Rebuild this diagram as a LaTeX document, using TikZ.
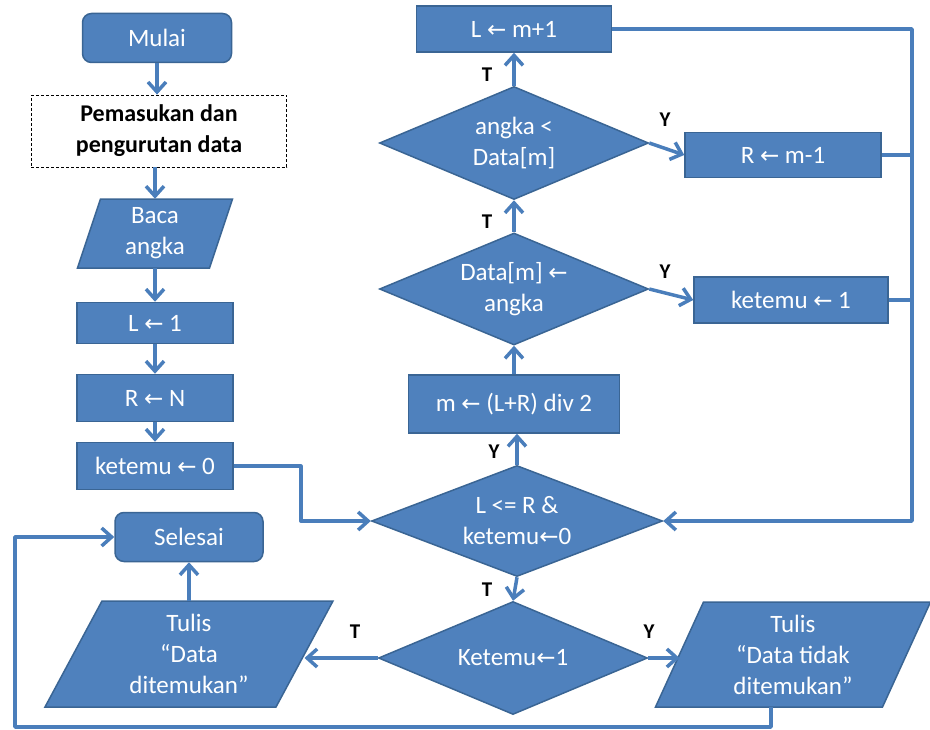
\documentclass[tikz,border=0pt]{standalone}
\usepackage{fontspec}
\setmainfont{Carlito}
\newfontfamily\arrowfont{DejaVu Sans}
\usetikzlibrary{shapes.geometric,arrows.meta,calc}

\definecolor{boxfill}{HTML}{4F81BD}
\definecolor{boxedge}{HTML}{3A6594}
\definecolor{linkblue}{HTML}{4A7EBB}

% assignment arrow used inside the boxes
\newcommand\lar{{\arrowfont\fontsize{23bp}{26bp}\selectfont ←}}

\tikzset{
  base/.style={font=\fontsize{25bp}{31bp}\selectfont, text=white, align=center, inner sep=0pt},
  procbox/.style={base, rectangle, draw=boxedge, fill=boxfill, line width=1.5bp},
  termbox/.style={procbox, rounded corners=9bp},
  decision/.style={base, diamond, draw=boxedge, fill=boxfill, line width=1.5bp, aspect=2.4},
  iotext/.style={base, rectangle},
  iofill/.style={draw=boxedge, fill=boxfill, line width=1.5bp},
  link/.style={draw=linkblue, line width=3.5bp, line join=round,
               -{Straight Barb[length=10bp,width=18bp]}},
  plain/.style={draw=linkblue, line width=3.5bp, line join=round},
  lbl/.style={font=\bfseries\fontsize{21bp}{24bp}\selectfont, text=black, inner sep=0pt},
}

% input/output parallelogram: name, cx, cy, side width, height, slant, text
\newcommand\iobox[7]{%
  \draw[iofill] ({#2-#4/2+#6/2},{#3-#5/2}) -- ({#2+#4/2+#6/2},{#3-#5/2})
    -- ({#2+#4/2-#6/2},{#3+#5/2}) -- ({#2-#4/2-#6/2},{#3+#5/2}) -- cycle;
  \node[iotext, minimum width=#4bp, minimum height=#5bp] (#1) at (#2,#3) {#7};
  \coordinate (#1-r) at ({#2+#4/2},#3);
  \coordinate (#1-l) at ({#2-#4/2},#3);
}

\begin{document}
\begin{tikzpicture}[x=1bp,y=-1bp]
\fill[white] (0,0) rectangle (930,730);
\useasboundingbox (0,0) rectangle (930,730);

% ---- left column: start and initialisation
\node[termbox, minimum width=149bp, minimum height=49bp] (mulai) at (157,38) {Mulai};
\node[draw=black, line width=0.8bp, dash pattern=on 3bp off 2bp,
      minimum width=255bp, minimum height=72bp, inner sep=0pt, align=center,
      font=\bfseries\fontsize{24bp}{31bp}\selectfont] (prep) at (159,131)
      {Pemasukan dan\\pengurutan data};
\iobox{baca}{155}{233.5}{132}{69}{23}{Baca\\angka}
\node[procbox, minimum width=156bp, minimum height=41bp] (l1) at (155,323) {L \lar{} 1};
\node[procbox, minimum width=156bp, minimum height=47bp] (rn) at (155,398) {R \lar{} N};
\node[procbox, minimum width=156bp, minimum height=47bp] (k0) at (155,466) {ketemu \lar{} 0};

% ---- end and outputs
\node[termbox, minimum width=148bp, minimum height=49bp] (sel) at (189,537) {Selesai};
\iobox{found}{189}{654}{231}{106}{57}{Tulis\\“Data\\ditemukan”}
\iobox{nf}{793}{654.5}{227}{105}{48}{Tulis\\“Data tidak\\ditemukan”}

% ---- search loop
\node[decision, minimum width=291bp, minimum height=111bp] (loop) at (517,521) {L <= R \&\\ketemu\lar 0};
\node[decision, minimum width=269bp, minimum height=113bp] (found1) at (513,658) {Ketemu\lar 1};
\node[procbox, minimum width=211bp, minimum height=58bp] (mid) at (514,404) {m \lar{} (L+R) div 2};
\node[decision, minimum width=269bp, minimum height=112bp] (eq) at (514,289) {Data[m] \lar\\angka};
\node[decision, minimum width=269bp, minimum height=113bp] (lt) at (514,143) {angka <\\Data[m]};
\node[procbox, minimum width=195bp, minimum height=46bp] (lm) at (514,29) {L \lar{} m+1};
\node[procbox, minimum width=196bp, minimum height=45bp] (rm) at (783,155) {R \lar{} m-1};
\node[procbox, minimum width=194bp, minimum height=46bp] (k1) at (791,300) {ketemu \lar{} 1};

\coordinate (rail) at (912,0);
\coordinate (bot) at (15,727);

% ---- connectors
\draw[link] (mulai.south) -- (mulai.south |- prep.north);
\draw[link] (prep.south -| baca.north) -- (baca.north);
\draw[link] (baca.south) -- (l1.north);
\draw[link] (l1.south) -- (rn.north);
\draw[link] (rn.south) -- (k0.north);
\draw[link] (k0.east) -- ++(67,0) |- (loop.west);

\draw[link] (loop.north) -- (loop.north |- mid.south);
\draw[link] (mid.north) -- (eq.south);
\draw[link] (eq.north) -- (lt.south);
\draw[link] (lt.north) -- (lm.south);
\draw[link] (lt.east) -- (rm.west);
\draw[link] (eq.east) -- (k1.west);

\draw[link] (lm.east) -- (lm.east -| rail) |- (loop.east);
\draw[plain] (rm.east) -- (rm.east -| rail);
\draw[plain] (k1.east) -- (k1.east -| rail);

\draw[link] (loop.south) -- (found1.north);
\draw[link] (found1.west) -- (found1.west -| found-r);
\draw[link] (found1.east) -- (found1.east -| nf-l);
\draw[link] (found.north) -- (sel.south);
\draw[link] ([xshift=-22bp]nf.south) |- (bot) |- (sel.west);

% ---- branch labels
\node[lbl] (t1) at (487,75) {T};
\node[lbl] (t2) at (487,222) {T};
\node[lbl] (y1) at (665,120) {Y};
\node[lbl] (y2) at (665,272) {Y};
\node[lbl] (y3) at (494,452) {Y};
\node[lbl] (t3) at (487,590) {T};
\node[lbl] (t4) at (355,632) {T};
\node[lbl] (y4) at (649,632) {Y};
\end{tikzpicture}
\end{document}
